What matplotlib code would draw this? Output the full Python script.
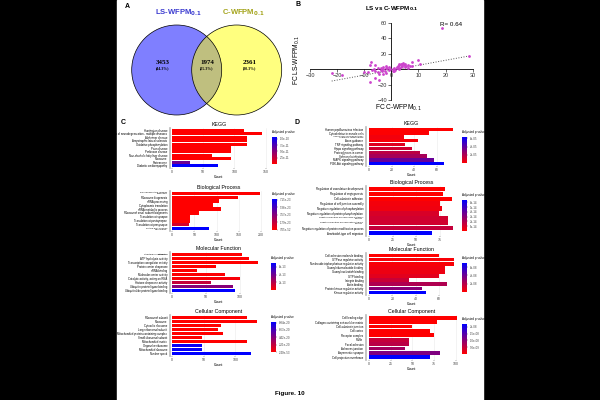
import numpy as np
import matplotlib
matplotlib.use('Agg')
import matplotlib.pyplot as plt
from matplotlib.patches import Circle, Rectangle
from matplotlib.colors import LinearSegmentedColormap, Normalize
from matplotlib.cm import ScalarMappable

plt.rcParams['font.family'] = ['Liberation Sans', 'DejaVu Sans']

# ---- data ----
venn_counts = ['3453', '1974', '2361']
venn_pcts = ['(44.3%)', '(25.3%)', '(30.3%)']

fc_c = [18.5, 28.5, 9.8, 7.6, 7.6, 10.7, -7.4, -8.0, -6.2, -22.0, -18.2, -10.2, -8.6, -8.0,
        -6.2, -4.7, -6.0, -5.0, -5.0, -4.0, -4.0, -3.5, -3.0, -3.0, -2.5, -2.0, -2.0, -1.5,
        -1.0, -1.0, -0.5, -6.5, -7.0, -4.5, -3.0, -2.0, 0.5, 1.0, 1.5, 2.0, 2.0, 2.5, 3.0,
        3.0, 3.5, 3.5, 4.0, 4.0, 4.5, 5.0, 5.0, 5.5, 6.0, 6.0, 1.0, 0.5, 3.0, 7.0, 4.2, 2.8]
fc_ls = [53.0, 17.0, 11.6, 9.5, 4.0, 6.0, 9.5, 4.7, 4.7, -5.6, -7.8, -3.4, -3.4, -16.4,
         -12.0, -14.2, -2.0, 1.0, -4.0, 2.0, -1.0, -3.0, 0.0, 3.0, -2.0, 1.0, -5.0, 2.0,
         -1.0, 3.0, 0.0, 0.5, -1.0, -6.0, -6.5, 4.5, 0.5, 2.0, -1.0, 3.0, 1.0, 4.0, 5.0,
         2.0, 6.0, 3.0, 7.0, 4.0, 5.5, 3.0, 6.0, 4.5, 2.0, 5.0, -2.0, -3.0, 0.0, 3.5, 8.0, 6.5]
trend_slope, trend_intercept = 0.64, -1.4
trend_x = [-22.0, 28.5]

kegg_c_terms = ['Huntington disease', 'Pathways of neurodegeneration - multiple diseases',
                'Alzheimer disease', 'Amyotrophic lateral sclerosis', 'Oxidative phosphorylation',
                'Prion disease', "Parkinson disease", 'Non-alcoholic fatty liver disease',
                'Ribosome', 'Proteasome', 'Diabetic cardiomyopathy']
kegg_c_count = [116, 145, 120, 120, 121, 94, 94, 64, 94, 28, 74]
kegg_c_padj = [1e-14, 1e-15, 2e-14, 3e-14, 2e-14, 5e-13, 6e-13, 1e-12, 4e-13, 6.2e-11, 1.07e-10]

bp_c_terms = ['Ribonucleoprotein complex\nbiogenesis', 'Ribosome biogenesis', 'rRNA processing',
              'Cytoplasmic translation', 'rRNA metabolic process',
              'Ribosomal small subunit biogenesis', 'Translation at synapse',
              'Translation at postsynapse', 'Translation at presynapse',
              'Protein-RNA complex\norganization']
bp_c_count = [199, 148, 105, 92, 111, 60, 39, 39, 37, 82]
bp_c_padj = [7.05e-52, 1e-45, 1e-40, 1e-38, 1e-39, 1e-30, 2e-25, 5e-25, 1.2e-23, 7.3e-23]

mf_c_terms = ['Structural constituent of\nribosome', 'ATP hydrolysis activity',
              'Transcription coregulator activity', 'Protein carrier chaperone', 'rRNA binding',
              'Molecular carrier activity', 'Catalytic activity, acting on RNA',
              'Histone chaperone activity', 'Ubiquitin protein ligase binding',
              'Ubiquitin-like protein ligase binding']
mf_c_count = [102, 113, 127, 65, 37, 77, 100, 57, 89, 92]
mf_c_padj = [1e-30, 1e-16, 1e-15, 2e-15, 3e-15, 1e-14, 2e-14, 1.6e-13, 3.3e-13, 7.0e-13]

cc_c_terms = ['Ribosomal subunit', 'Ribosome', 'Cytosolic ribosome', 'Large ribosomal subunit',
              'Mitochondrial protein-containing complex', 'Small ribosomal subunit',
              'Mitochondrial matrix', 'Organellar ribosome', 'Mitochondrial ribosome',
              'Nuclear speck']
cc_c_count = [118, 134, 78, 72, 80, 47, 119, 47, 47, 125]
cc_c_padj = [2.4e-53, 1e-50, 1e-40, 1e-35, 1e-30, 1e-28, 1e-25, 8.8e-20, 8.8e-20, 9.1e-20]

kegg_d_terms = ['Human papillomavirus infection', 'Cytoskeleton in muscle cells',
                'AGE-RAGE signaling pathway\nin diabetic complications', 'Axon guidance',
                'TNF signaling pathway', 'Hippo signaling pathway', 'Proteoglycans in cancer',
                'Salmonella infection', 'MAPK signaling pathway', 'PI3K-Akt signaling pathway']
kegg_d_count = [74, 53, 31, 43, 32, 38, 45, 51, 57, 66]
kegg_d_padj = [1e-7, 5e-7, 3e-6, 2e-6, 8e-6, 1.2e-5, 1.7e-5, 2.2e-5, 3.8e-5, 6.4e-5]

bp_d_terms = ['Regulation of vasculature development', 'Regulation of angiogenesis',
              'Cell-substrate adhesion', 'Regulation of cell junction assembly',
              'Negative regulation of phosphorylation',
              'Negative regulation of protein phosphorylation',
              'Negative regulation of phosphorus metabolic\nprocess',
              'Negative regulation of phosphate metabolic\nprocess',
              'Negative regulation of protein modification process',
              'Ameboidal-type cell migration']
bp_d_count = [81, 79, 88, 76, 78, 74, 84, 84, 89, 67]
bp_d_padj = [1e-16, 2e-16, 1e-16, 3e-15, 4e-15, 1e-14, 1.2e-14, 1.2e-14, 1.5e-14, 6.5e-14]

mf_d_terms = ['Cell adhesion molecule binding', 'GTPase regulator activity',
              'Nucleoside-triphosphatase regulator activity', 'Guanyl ribonucleotide binding',
              'Guanyl nucleotide binding', 'GTP binding', 'Integrin binding', 'Actin binding',
              'Protein kinase regulator activity', 'Kinase regulator activity']
mf_d_count = [60, 73, 73, 65, 65, 60, 34, 67, 45, 49]
mf_d_padj = [1e-10, 2e-9, 2e-9, 4e-9, 5e-9, 8e-9, 1.5e-8, 2.2e-8, 3.2e-8, 7.0e-8]

cc_d_terms = ['Cell leading edge', 'Collagen-containing extracellular matrix',
              'Cell-substrate junction', 'Cell cortex', 'Receptor complex', 'Ruffle',
              'Focal adhesion', 'Adherens junction', 'Asymmetric synapse',
              'Cell projection membrane']
cc_d_count = [101, 78, 50, 70, 75, 46, 46, 42, 82, 70]
cc_d_padj = [1e-12, 1e-11, 1e-10, 1e-10, 1e-10, 5e-9, 6e-9, 8e-9, 1.1e-8, 2.2e-8]

# ---- figure ----
W, H = 600, 400
fig = plt.figure(figsize=(6, 4), dpi=100, facecolor='black')


def box(l, t, r, b):
    return [l / W, 1 - b / H, (r - l) / W, (b - t) / H]


page = fig.add_axes([0, 0, 1, 1])
page.set_xlim(0, W)
page.set_ylim(H, 0)
page.axis('off')
page.add_patch(Rectangle((117, 0), 366, 400, color='white', zorder=0))

# A: venn
page.add_patch(Circle((176.7, 70), 45, fc=(0, 0, 1, 0.5), ec='none'))
page.add_patch(Circle((236.7, 70), 45, fc=(1, 1, 0, 0.5), ec='none'))
for cx in (176.7, 236.7):
    page.add_patch(Circle((cx, 70), 45, fill=False, ec='black', lw=0.5))
for x, n, p in zip([163, 207, 250], venn_counts, venn_pcts):
    page.text(x, 63, n, ha='center', va='center', fontsize=5, weight='bold',
              family='Liberation Serif')
    page.text(x, 68.5, p, ha='center', va='center', fontsize=2.8, weight='bold',
              family='Liberation Serif')
page.text(178, 13, r'LS-WFPM$_{\mathbf{0.1}}$', ha='center', va='center', fontsize=5.5,
          weight='bold', color='#3c3cd0')
page.text(243, 13, r'C-WFPM$_{\mathbf{0.1}}$', ha='center', va='center', fontsize=5.5,
          weight='bold', color='#a4a41c')
page.text(127, 7, 'A', ha='center', va='center', fontsize=5, weight='bold')
page.text(298, 5, 'B', ha='center', va='center', fontsize=5, weight='bold')
page.text(123.5, 122, 'C', ha='center', va='center', fontsize=5, weight='bold')
page.text(297, 122, 'D', ha='center', va='center', fontsize=5, weight='bold')
page.text(290, 394, 'Figure. 10', ha='center', va='center', fontsize=4.5, weight='bold')

# B: scatter
axb = fig.add_axes(box(310, 22.7, 472.7, 100))
axb.set_facecolor('none')
axb.scatter(fc_c, fc_ls, s=4, color='#cc44cc', linewidths=0, zorder=3)
tx = np.array(trend_x)
axb.plot(tx, trend_slope * tx + trend_intercept, ls=':', color='#555555', lw=0.7)
axb.set_xlim(-30, 30)
axb.set_ylim(-40, 60)
axb.spines['left'].set_position(('data', 0))
axb.spines['bottom'].set_position(('data', 0))
for s in ('top', 'right'):
    axb.spines[s].set_visible(False)
for s in ('left', 'bottom'):
    axb.spines[s].set_linewidth(0.6)
axb.set_xticks(range(-30, 31, 10))
axb.set_yticks([-40, -20, 20, 40, 60])
axb.tick_params(labelsize=4, length=2, width=0.5, pad=1, colors='#333333')
axb.text(0.5, 1.16, r'LS vs C-WFPM$_{\mathbf{0.1}}$', transform=axb.transAxes, ha='center',
         fontsize=4.5, weight='bold')
axb.text(22, 58, 'R= 0.64', fontsize=4.5, ha='center', va='center')
page.text(297, 60, r'FC LS-WFPM$_{0.1}$', rotation=90, ha='center', va='center', fontsize=4.8)
page.text(398, 108, r'FC C-WFPM$_{0.1}$', ha='center', va='center', fontsize=4.8)

# C / D: enrichment bars
cmap = LinearSegmentedColormap.from_list('padj', ['#ff0000', '#0000ff'])


def go_panel(px, cpx, title, terms, counts, padj, xlim, xticks, cticks, clabels):
    ax = fig.add_axes(box(*px))
    n = len(terms)
    norm = Normalize(0, max(padj))
    ax.barh(np.arange(n), counts, height=0.88, color=cmap(norm(np.array(padj))), zorder=2)
    ax.set_ylim(n - 0.4, -0.6)
    ax.set_xlim(*xlim)
    ax.set_xticks(xticks)
    ax.set_yticks(np.arange(n))
    ax.set_yticklabels(terms, fontsize=2.0, linespacing=0.8)
    for lab in ax.get_yticklabels():
        if '\n' in lab.get_text():
            lab.set_fontsize(1.6)
            lab.set_linespacing(0.75)
    ax.tick_params(axis='x', labelsize=2.5, length=1, width=0.3, pad=0.5, colors='#444444')
    ax.tick_params(axis='y', length=0, pad=2)
    ax.grid(axis='x', color='#ebebeb', lw=0.4, zorder=0)
    for s in ('top', 'right', 'bottom'):
        ax.spines[s].set_visible(False)
    ax.spines['left'].set_color('#bbbbbb')
    ax.spines['left'].set_linewidth(1.2)
    ax.set_title(title, fontsize=3.8, pad=1.2)
    ax.set_xlabel('Count', fontsize=2.5, labelpad=0.8)
    cax = fig.add_axes(box(*cpx))
    cb = fig.colorbar(ScalarMappable(norm=norm, cmap=cmap), cax=cax)
    cb.set_ticks(cticks)
    cb.set_ticklabels(clabels)
    cb.outline.set_visible(False)
    cax.tick_params(labelsize=2.1, length=1, width=0.3, pad=1, colors='#444444')
    cax.text(0, 1.1, 'Adjusted p value', transform=cax.transAxes, fontsize=2.2, va='bottom')


go_panel((170, 128, 268, 168), (272, 137, 277, 164), 'KEGG', kegg_c_terms, kegg_c_count,
         kegg_c_padj, (-3.6, 154), [0, 50, 100, 150],
         [2.5e-11, 5e-11, 7.5e-11, 1e-10], ['2.5e-11', '5.0e-11', '7.5e-11', '1.0e-10'])
go_panel((170, 191, 268, 231), (271.7, 199, 276.7, 229.5), 'Biological Process', bp_c_terms,
         bp_c_count, bp_c_padj, (-5, 216), [0, 50, 100, 150, 200],
         [7.05e-52, 1.79e-23, 3.57e-23, 5.36e-23, 7.15e-23],
         ['7.05e-52', '1.79e-23', '3.57e-23', '5.36e-23', '7.15e-23'])
go_panel((170, 252, 268, 293), (270.7, 263, 275.7, 290), 'Molecular Function', mf_c_terms,
         mf_c_count, mf_c_padj, (-3.3, 141), [0, 50, 100],
         [2e-13, 4e-13, 6e-13], ['2e-13', '4e-13', '6e-13'])
go_panel((170, 315, 268, 356), (270.7, 321.7, 275.7, 352), 'Cellular Component', cc_c_terms,
         cc_c_count, cc_c_padj, (-3.6, 152), [0, 50, 100],
         [2.4e-53, 2.21e-20, 4.42e-20, 6.63e-20, 8.84e-20],
         ['2.40e-53', '2.21e-20', '4.42e-20', '6.63e-20', '8.84e-20'])

go_panel((366, 127, 457, 166), (461.7, 136.7, 466.7, 163.3), 'KEGG', kegg_d_terms,
         kegg_d_count, kegg_d_padj, (-2.6, 77.6), [0, 20, 40, 60],
         [2e-5, 4e-5, 6e-5], ['2e-05', '4e-05', '6e-05'])
go_panel((366, 186, 457, 236), (461.7, 200, 466.7, 231), 'Biological Process', bp_d_terms,
         bp_d_count, bp_d_padj, (-3.2, 93.6), [0, 25, 50, 75],
         [1e-14, 2e-14, 3e-14, 4e-14, 5e-14, 6e-14],
         ['1e-14', '2e-14', '3e-14', '4e-14', '5e-14', '6e-14'])
go_panel((366, 253, 457, 295), (461.7, 263, 466.7, 292), 'Molecular Function', mf_d_terms,
         mf_d_count, mf_d_padj, (-2.6, 75.4), [0, 20, 40, 60],
         [2e-8, 4e-8, 6e-8], ['2e-08', '4e-08', '6e-08'])
go_panel((366, 315, 457, 360), (461.7, 324, 466.7, 354), 'Cellular Component', cc_d_terms,
         cc_d_count, cc_d_padj, (-3.5, 101.5), [0, 25, 50, 75, 100],
         [5e-9, 1e-8, 1.5e-8, 2e-8], ['5.0e-09', '1.0e-08', '1.5e-08', '2e-08'])

fig.savefig('out.png', dpi=100, facecolor='black')
